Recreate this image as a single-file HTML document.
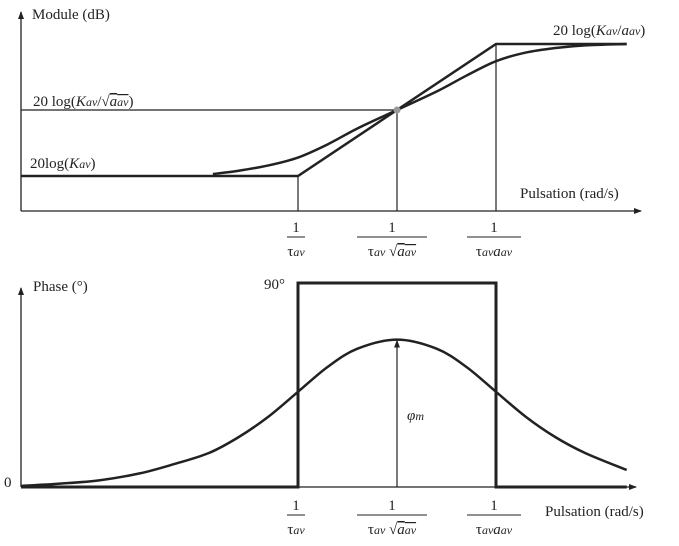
<!DOCTYPE html>
<html><head><meta charset="utf-8"><style>
body{margin:0;background:#fff}
svg{display:block;font-family:"Liberation Serif",serif;fill:#222}
text{font-size:15px}
.it{font-style:italic}
</style></head><body>
<svg id="c" width="679" height="546" viewBox="0 0 679 546">
<defs><marker id="ar" markerWidth="8" markerHeight="6" refX="7" refY="3" orient="auto" markerUnits="userSpaceOnUse"><path d="M0,0 L8,3 L0,6 z" fill="#222"/></marker></defs>
<g id="gtop"></g>
<g id="gbot"></g>
<text x="32" y="19">Module (dB)</text>
<text x="520" y="198">Pulsation (rad/s)</text>
<text x="553" y="35">20  log(<tspan class="it">K</tspan><tspan class="it" font-size="12">av</tspan>/<tspan class="it">a</tspan><tspan class="it" font-size="12">av</tspan>)</text>
<text x="33" y="106">20 log(<tspan class="it">K</tspan><tspan class="it" font-size="12">av</tspan>/√<tspan class="it" text-decoration="overline">a<tspan font-size="12">av</tspan></tspan>)</text>
<text x="30" y="168">20log(<tspan class="it">K</tspan><tspan class="it" font-size="12">av</tspan>)</text>
<text x="33" y="291">Phase (°)</text>
<text x="264" y="289">90°</text>
<text x="4" y="487">0</text>
<text x="407" y="420" class="it">φ<tspan font-size="12">m</tspan></text>
<text x="545" y="516">Pulsation (rad/s)</text>
</svg>
<script>
// x in normalized log-frequency: 0 = 1/tau, 1 = 1/(tau a)
const magU=[-0.43,-0.3,-0.15,0,0.15,0.3,0.5,0.7,0.85,1,1.15,1.3,1.45,1.66];
const magDB=[0.3,0.8,1.6,2.8,4.8,7.2,10,12.8,15.2,17.4,18.7,19.4,19.8,20];
const asymU=[-1.4,0,1,1.66];
const asymDB=[0,0,20,20];
const phU=[-1.4,-1.2,-1,-0.8,-0.63,-0.45,-0.3,-0.15,0,0.15,0.3,0.5,0.7,0.85,1,1.15,1.3,1.45,1.66];
const phDeg=[0.5,1.5,3,6,10,15,22,31,42,53,61,65,61,53,42,31,22,15,7.5];
const ticksU=[0,0.5,1];
const X=u=>298+u*198;
const YM=d=>176-d*6.6;
const YP=d=>487-d*2.267;
const NS="http://www.w3.org/2000/svg";
function mk(p,tag,attrs,txt){const e=document.createElementNS(NS,tag);for(const k in attrs)e.setAttribute(k,attrs[k]);if(txt)e.textContent=txt;p.appendChild(e);return e;}
function smooth(pts){let d='M'+pts[0][0]+','+pts[0][1];
  for(let i=0;i<pts.length-1;i++){const p0=pts[Math.max(0,i-1)],p1=pts[i],p2=pts[i+1],p3=pts[Math.min(pts.length-1,i+2)];
    const c1=[p1[0]+(p2[0]-p0[0])/6,p1[1]+(p2[1]-p0[1])/6],c2=[p2[0]-(p3[0]-p1[0])/6,p2[1]-(p3[1]-p1[1])/6];
    d+=` C${c1[0]},${c1[1]} ${c2[0]},${c2[1]} ${p2[0]},${p2[1]}`;}
  return d;}
const gT=document.getElementById('gtop'),gB=document.getElementById('gbot');
let e;
e=mk(gT,'line',{x1:21,y1:211,x2:21,y2:12,stroke:'#222','stroke-width':1.3,'marker-end':'url(#ar)'});


e=mk(gT,'line',{x1:21,y1:211,x2:641,y2:211,stroke:'#222','stroke-width':1.3,'marker-end':'url(#ar)'});


e=mk(gB,'line',{x1:21,y1:487,x2:21,y2:288,stroke:'#222','stroke-width':1.3,'marker-end':'url(#ar)'});


e=mk(gB,'line',{x1:21,y1:487,x2:636,y2:487,stroke:'#222','stroke-width':1.3,'marker-end':'url(#ar)'});


e=mk(gT,'polyline',{points:asymU.map((u,i)=>X(u)+','+YM(asymDB[i])).join(' '),fill:'none',stroke:'#222','stroke-width':2.5});


e=mk(gT,'path',{d:smooth(magU.map((u,i)=>[X(u),YM(magDB[i])])),fill:'none',stroke:'#222','stroke-width':2.5});


e=mk(gT,'line',{x1:21,y1:YM(10),x2:X(0.5),y2:YM(10),stroke:'#222','stroke-width':1.2});


[[0,0],[0.5,10],[1,20]].forEach(([u,d])=>{
  const l=mk(gT,'line',{x1:X(u),y1:YM(d),x2:X(u),y2:211,stroke:'#222','stroke-width':1.2});
  
  
});
e=mk(gT,'circle',{cx:X(0.5),cy:YM(10),r:3.5,fill:'#999'});


e=mk(gB,'polyline',{points:`21,487 ${X(0)},487 ${X(0)},${YP(90)} ${X(1)},${YP(90)} ${X(1)},487 ${X(1.66)},487`,fill:'none',stroke:'#222','stroke-width':3});


e=mk(gB,'path',{d:smooth(phU.map((u,i)=>[X(u),YP(phDeg[i])])),fill:'none',stroke:'#222','stroke-width':2.5});


e=mk(gB,'line',{x1:X(0.5),y1:487,x2:X(0.5),y2:YP(65)+1,stroke:'#222','stroke-width':1.2,'marker-end':'url(#ar)'});


function tickLabels(g,y0){
  const widths=[18,70,54];
  ticksU.forEach((u,i)=>{const x=X(u)-(i==1?5:2);
    const t=mk(g,'g',{});
    
    
    mk(t,'text',{x:x,y:y0,'text-anchor':'middle'},'1');
    mk(t,'line',{x1:x-widths[i]/2,y1:y0+5,x2:x+widths[i]/2,y2:y0+5,stroke:'#222','stroke-width':1});
    const d=mk(t,'text',{x:x,y:y0+24,'text-anchor':'middle'});
    if(i==0){d.innerHTML='τ<tspan class="it" font-size="12">av</tspan>';}
    if(i==1){d.innerHTML='τ<tspan class="it" font-size="12">av</tspan> √<tspan class="it" text-decoration="overline">a<tspan font-size="12">av</tspan></tspan>';}
    if(i==2){d.innerHTML='τ<tspan class="it" font-size="12">av</tspan><tspan class="it">a</tspan><tspan class="it" font-size="12">av</tspan>';}
  });
}
tickLabels(gT,232);tickLabels(gB,510);
</script>
</body></html>
